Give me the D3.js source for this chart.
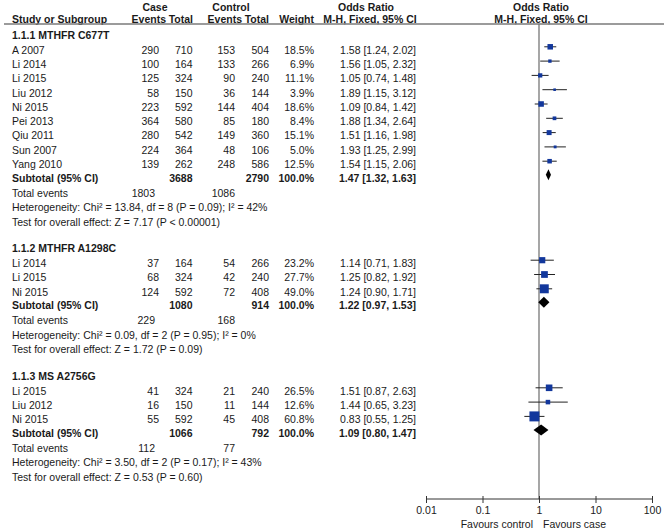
<!DOCTYPE html>
<html>
<head>
<meta charset="utf-8">
<script src="https://cdn.jsdelivr.net/npm/d3@7"></script>
<style>
  body { margin: 0; background: #fff; }
  svg text { font-family: "Liberation Sans", Arial, sans-serif; font-size: 10.5px; fill: #1a1a1a; }
  .b { font-weight: bold; }
</style>
</head>
<body>
<div class="chart"></div>
<script>
// forest plot, three subgroups

const groupTitles = ['1.1.1 MTHFR C677T', '1.1.2 MTHFR A1298C', '1.1.3 MS A2756G'];
const studyGroup = [0,0,0,0,0,0,0,0,0, 1,1,1, 2,2,2];
const studyNames = ['A 2007','Li 2014','Li 2015','Liu 2012','Ni 2015','Pei 2013','Qiu 2011','Sun 2007','Yang 2010',
                    'Li 2014','Li 2015','Ni 2015',
                    'Li 2015','Liu 2012','Ni 2015'];
const caseEvents = [290,100,125,58,223,364,280,224,139, 37,68,124, 41,16,55];
const caseTotal  = [710,164,324,150,592,580,542,364,262, 164,324,592, 324,150,592];
const ctrlEvents = [153,133,90,36,144,85,149,48,248, 54,42,72, 21,11,45];
const ctrlTotal  = [504,266,240,144,404,180,360,106,586, 266,240,408, 240,144,408];
const weights    = [18.5,6.9,11.1,3.9,18.6,8.4,15.1,5.0,12.5, 23.2,27.7,49.0, 26.5,12.6,60.8];
const orEst  = [1.58,1.56,1.05,1.89,1.09,1.88,1.51,1.93,1.54, 1.14,1.25,1.24, 1.51,1.44,0.83];
const orLow  = [1.24,1.05,0.74,1.15,0.84,1.34,1.16,1.25,1.15, 0.71,0.82,0.90, 0.87,0.65,0.55];
const orHigh = [2.02,2.32,1.48,3.12,1.42,2.64,1.98,2.99,2.06, 1.83,1.92,1.71, 2.63,3.23,1.25];

const subCaseTotal = [3688, 1080, 1066];
const subCtrlTotal = [2790, 914, 792];
const subOr   = [1.47, 1.22, 1.09];
const subLow  = [1.32, 0.97, 0.80];
const subHigh = [1.63, 1.53, 1.47];
const totCaseEvents = [1803, 229, 112];
const totCtrlEvents = [1086, 168, 77];
const hetChi = ['13.84', '0.09', '3.50'];
const hetDf  = [8, 2, 2];
const hetP   = ['0.09', '0.95', '0.17'];
const hetI2  = [42, 0, 43];
const testZ  = ['7.17', '1.72', '0.53'];
const testP  = ['P < 0.00001', 'P = 0.09', 'P = 0.60'];

const axisTicks = [0.01, 0.1, 1, 10, 100];
const tickLabels = ['0.01', '0.1', '1', '10', '100'];

const width = 664, height = 530;
const lineY = 24, axisY = 499;

const svg = d3.select('.chart').append('svg')
    .attr('width', width)
    .attr('height', height);

const x = d3.scaleLog().domain([0.01, 100]).range([426, 652]);
const boxSize = d3.scaleSqrt().domain([0, 100]).range([0, 12.8]);
const f2 = d3.format('.2f'), f1 = d3.format('.1f');
const orText = (e, l, h) => f2(e) + ' [' + f2(l) + ', ' + f2(h) + ']';

// column anchors
const col = {label: 12, cEv: 159, cTot: 192.5, kEv: 235, kTot: 269, w: 314, or: 416, totC: 155};

const txt = (x0, y0, s, anchor, bold) => svg.append('text')
    .attr('x', x0).attr('y', y0)
    .attr('text-anchor', anchor || 'start')
    .attr('class', bold ? 'b' : null)
    .text(s);

// headers
txt(155, 10.5, 'Case', 'middle', true);
txt(231, 10.5, 'Control', 'middle', true);
txt(366, 10.5, 'Odds Ratio', 'middle', true);
txt(541, 10.5, 'Odds Ratio', 'middle', true);
txt(col.label, 22.5, 'Study or Subgroup', 'start', true);
txt(166, 22.5, 'Events', 'end', true);
txt(193, 22.5, 'Total', 'end', true);
txt(242, 22.5, 'Events', 'end', true);
txt(269, 22.5, 'Total', 'end', true);
txt(314, 22.5, 'Weight', 'end', true);
txt(370, 22.5, 'M-H, Fixed, 95% CI', 'middle', true);
txt(541, 22.5, 'M-H, Fixed, 95% CI', 'middle', true);

svg.append('line')
    .attr('x1', 4).attr('x2', width)
    .attr('y1', lineY).attr('y2', lineY)
    .attr('stroke', '#7a7a7a').attr('stroke-width', 1.4);

// line of no effect
svg.append('line')
    .attr('x1', x(1)).attr('x2', x(1))
    .attr('y1', lineY).attr('y2', axisY)
    .attr('stroke', '#777').attr('stroke-width', 1.3);

const base = 3.8;   // text baseline below row centre
const mk = -3;      // marker offset from row centre
let y = 34.8;

groupTitles.forEach((title, g) => {
    txt(col.label, y + base, title, 'start', true);
    y += 15;
    const idx = d3.range(studyNames.length).filter(i => studyGroup[i] === g);
    let last = y;
    idx.forEach(i => {
        txt(col.label, y + base, studyNames[i]);
        txt(col.cEv, y + base, caseEvents[i], 'end');
        txt(col.cTot, y + base, caseTotal[i], 'end');
        txt(col.kEv, y + base, ctrlEvents[i], 'end');
        txt(col.kTot, y + base, ctrlTotal[i], 'end');
        txt(col.w, y + base, f1(weights[i]) + '%', 'end');
        txt(col.or, y + base, orText(orEst[i], orLow[i], orHigh[i]), 'end');

        const cy = y + mk;
        svg.append('line')
            .attr('x1', x(orLow[i])).attr('x2', x(orHigh[i]))
            .attr('y1', cy).attr('y2', cy)
            .attr('stroke', '#222').attr('stroke-width', 1);
        const s = Math.max(2.6, boxSize(weights[i]));
        svg.append('rect')
            .attr('x', x(orEst[i]) - s / 2).attr('y', cy - s / 2)
            .attr('width', s).attr('height', s)
            .attr('fill', '#12379c');
        last = y;
        y += 14.3;
    });
    y = last + 13.5;
    // subtotal
    txt(col.label, y + base, 'Subtotal (95% CI)', 'start', true);
    txt(col.cTot, y + base, subCaseTotal[g], 'end', true);
    txt(col.kTot, y + base, subCtrlTotal[g], 'end', true);
    txt(col.w, y + base, '100.0%', 'end', true);
    txt(col.or, y + base, orText(subOr[g], subLow[g], subHigh[g]), 'end', true);
    const dy = y + mk;
    svg.append('path')
        .attr('d', 'M' + x(subLow[g]) + ',' + dy +
                   'L' + x(subOr[g]) + ',' + (dy - 5.5) +
                   'L' + x(subHigh[g]) + ',' + dy +
                   'L' + x(subOr[g]) + ',' + (dy + 5.5) + 'Z')
        .attr('fill', '#000');
    y += 15;
    txt(col.label, y + base, 'Total events');
    txt(col.totC, y + base, totCaseEvents[g], 'end');
    txt(col.kEv, y + base, totCtrlEvents[g], 'end');
    y += 14.5;
    txt(col.label, y + base, 'Heterogeneity: Chi\u00b2 = ' + hetChi[g] + ', df = ' + hetDf[g] +
        ' (P = ' + hetP[g] + '); I\u00b2 = ' + hetI2[g] + '%');
    y += 14.5;
    txt(col.label, y + base, 'Test for overall effect: Z = ' + testZ[g] + ' (' + testP[g] + ')');
    y += 26.5;
});

// bottom axis
svg.append('line')
    .attr('x1', x(0.01)).attr('x2', x(100))
    .attr('y1', axisY).attr('y2', axisY)
    .attr('stroke', '#333').attr('stroke-width', 1);

const xAxis = d3.axisBottom(x)
    .tickValues(axisTicks)
    .tickFormat((d, i) => tickLabels[i])
    .tickSize(7)
    .tickSizeOuter(0)
    .tickPadding(3.5);

const ax = svg.append('g')
    .attr('transform', 'translate(0,' + (axisY - 3) + ')')
    .call(xAxis);
ax.select('.domain').remove();
ax.selectAll('.tick line').attr('stroke', '#333');
ax.selectAll('.tick text')
    .style('font-family', '"Liberation Sans", Arial, sans-serif')
    .style('font-size', '10.5px')
    .attr('fill', '#1a1a1a');

txt(x(1) - 6, 528, 'Favours control', 'end');
txt(x(1) + 4, 528, 'Favours case', 'start');
</script>
</body>
</html>
